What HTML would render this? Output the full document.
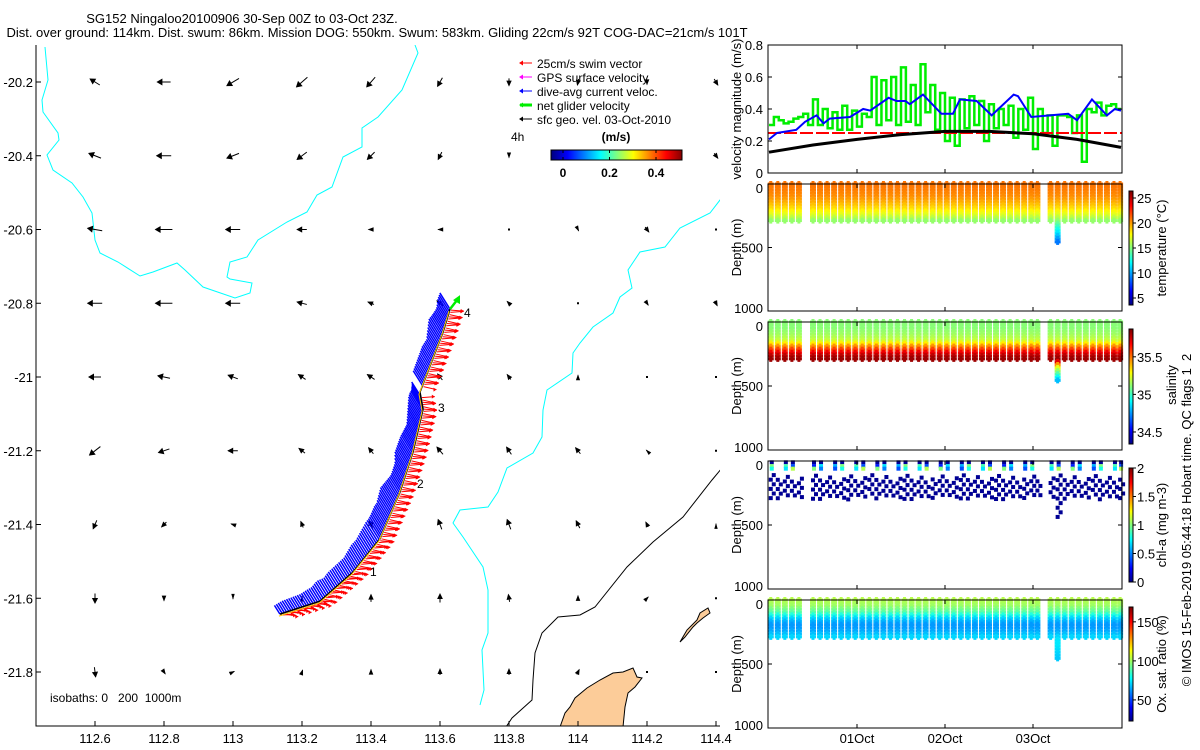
<!DOCTYPE html>
<html><head><meta charset="utf-8"><style>
html,body{margin:0;padding:0;background:#fff;}
svg{display:block;font-family:"Liberation Sans",sans-serif;}
</style></head><body>
<svg id="fig" width="1200" height="750" viewBox="0 0 1200 750" xmlns="http://www.w3.org/2000/svg">
<g font-size="13" fill="#000">
<text x="242" y="23" text-anchor="middle">SG152 Ningaloo20100906 30-Sep 00Z to 03-Oct 23Z.</text>
<text x="377" y="37" text-anchor="middle">Dist. over ground: 114km. Dist. swum: 86km. Mission DOG: 550km. Swum: 583km. Gliding 22cm/s 92T COG-DAC=21cm/s 101T</text>
</g>
<g id="map"></g>
<g id="right"></g>
</svg>
<script>
// ---------- data ----------
const mapLonTicks=[112.6,112.8,113,113.2,113.4,113.6,113.8,114,114.2,114.4];
const mapLatTicks=[-20.2,-20.4,-20.6,-20.8,-21,-21.2,-21.4,-21.6,-21.8];
const geoU=[
[-8,-11,-10,-9,-7,-4,0,-1,0,3],
[-10,-12,-10,-8,-6,-3,0,0,0,3],
[-12,-14,-12,-8,-4,-3,0,1,3,0],
[-12,-14,-12,-8,-5,-5,-3,0,2,2],
[-10,-10,-8,-6,-6,-4,-3,0,0,0],
[-9,-9,-8,-5,-4,-5,-4,-4,-1,0],
[-3,-4,-3,-2,-3,-3,-3,-3,-2,0],
[0,0,0,0,0,0,-1,0,2,0],
[1,2,2,1,0,0,0,2,0,0]];
const geoV=[
[5,0,-6,-8,-8,-7,-6,-5,-4,-5],
[4,0,-4,-6,-6,-6,-3,-2,-2,-4],
[2,0,0,0,0,0,0,-2,-4,0],
[0,0,0,2,2,4,3,0,-3,-4],
[0,2,3,4,4,5,4,3,0,0],
[-7,-3,0,4,5,6,6,5,1,0],
[-7,-4,1,5,7,8,8,6,4,1],
[-8,-4,-1,3,6,7,6,4,2,0],
[-8,-3,1,3,4,5,5,4,0,0]];
const trackLon=[113.136,113.252,113.348,113.426,113.484,113.522,113.551,113.542,113.609,113.629];
const trackLat=[-21.643,-21.608,-21.529,-21.439,-21.312,-21.203,-21.087,-21.041,-20.878,-20.816];

const dacDays=[0,0.09,0.31,0.41,0.54,0.62,0.69,0.92,1.07,1.15,1.36,1.45,1.55,1.6,1.75,1.96,2.09,2.17,2.36,2.53,2.78,2.83,2.98,3.19,3.4,3.5,3.67,3.84,3.93,4.0];
const dacVals=[0.21,0.25,0.27,0.32,0.36,0.31,0.34,0.35,0.40,0.39,0.47,0.45,0.45,0.43,0.49,0.37,0.37,0.46,0.45,0.36,0.49,0.48,0.35,0.36,0.37,0.33,0.46,0.36,0.40,0.39];
const netVals=[0.30,0.35,0.33,0.31,0.32,0.34,0.35,0.37,0.30,0.46,0.30,0.40,0.28,0.38,0.27,0.42,0.27,0.39,0.29,0.37,0.35,0.60,0.30,0.58,0.33,0.60,0.30,0.66,0.32,0.55,0.30,0.68,0.38,0.55,0.27,0.50,0.20,0.47,0.17,0.46,0.28,0.48,0.30,0.45,0.20,0.43,0.28,0.40,0.30,0.42,0.22,0.40,0.27,0.47,0.15,0.40,0.25,0.36,0.17,0.36,0.36,0.35,0.25,0.36,0.07,0.40,0.38,0.44,0.36,0.42,0.43,0.40];
const geoDays=[0,0.5,1,1.5,2,2.5,3,3.5,4];
const geoVals=[0.13,0.175,0.21,0.24,0.26,0.26,0.245,0.21,0.16];
const swimSpeed=0.25;
const velTicks=[0,0.2,0.4,0.6,0.8];
const dayTicks=[1,2,3];
const dayLabels=["01Oct","02Oct","03Oct"];

const diveDays=[0.02,0.10,0.18,0.26,0.34,0.50,0.58,0.66,0.74,0.82,0.90,0.98,1.06,1.14,1.22,1.30,1.38,1.46,1.54,1.62,1.70,1.78,1.86,1.94,2.02,2.10,2.18,2.26,2.34,2.42,2.50,2.58,2.66,2.74,2.82,2.90,2.98,3.05,3.20,3.28,3.36,3.44,3.52,3.60,3.68,3.76,3.84,3.92,3.99];
const diveMaxDepth=[290,300,300,290,300,300,300,290,300,300,300,300,300,290,300,300,300,290,300,300,300,300,300,290,300,300,300,300,300,290,300,300,300,300,290,300,300,300,300,460,300,290,300,300,290,300,300,300,300];
const profDepth=[0,50,100,150,200,250,300,350,460];
const tempVals=[21.0,20.8,20.4,19.6,18.5,17.0,15.0,13,9];
const salVals=[35.12,35.12,35.15,35.22,35.5,35.75,35.85,35.3,34.8];
const chlVals=[0.55,0.6,0.08,0.04,0.04,0.04,0.04,0.04,0.04];
const oxVals=[104,100,90,70,62,66,74,75,70];
</script>
<script>
const NS="http://www.w3.org/2000/svg";
function el(tag,attrs,parent){const e=document.createElementNS(NS,tag);for(const k in attrs)e.setAttribute(k,attrs[k]);if(parent)parent.appendChild(e);return e;}
function txt(s,x,y,attrs,parent){const t=el('text',Object.assign({x:x,y:y},attrs),parent);t.textContent=s;return t;}
function jet(t){t=Math.max(0,Math.min(1,t));const c=v=>Math.round(255*Math.max(0,Math.min(1,v)));
 return `rgb(${c(1.5-Math.abs(4*t-3))},${c(1.5-Math.abs(4*t-2))},${c(1.5-Math.abs(4*t-1))})`;}
function interp(xs,ys,x){if(x<=xs[0])return ys[0];for(let i=1;i<xs.length;i++){if(x<=xs[i]){const f=(x-xs[i-1])/(xs[i]-xs[i-1]);return ys[i-1]+f*(ys[i]-ys[i-1]);}}return ys[ys.length-1];}

// ---------- MAP ----------
const map=document.getElementById('map');
const ML=36,MR=720,MT=45,MB=726;
const X=lon=>95+(lon-112.6)*345;
const Y=lat=>82+(-20.2-lat)*368.75;
const defs=el('defs',{},map);
const cp=el('clipPath',{id:'mapclip'},defs);el('rect',{x:ML,y:MT,width:MR-ML,height:MB-MT},cp);
const mg=el('g',{'clip-path':'url(#mapclip)'},map);
const land=el('path',{d:'M560,727 L565,713 570,707 575,698 587,688 600,680 613,673 623,672 633,668 637,677 642,678 635,687 628,693 625,707 623,727 Z',fill:'#fccc99',stroke:'#000','stroke-width':1},mg);


const isl=el('path',{d:'M680,642 L687,630 697,620 700,613 708,608 710,613 703,618 697,623 693,627 685,637 Z',fill:'#fccc99',stroke:'#000','stroke-width':1},mg);


const c1=el('polyline',{points:'45,47 48,80 42,100 43,112 58,133 59,140 47,155 53,170 72,183 83,197 92,213 95,240 100,253 118,262 140,276 153,272 177,263 185,270 203,287 235,298 250,293 252,283 230,279 227,277 230,262 247,257 258,240 287,222 307,212 317,195 332,187 343,157 362,147 362,128 378,117 402,90 418,53 415,45',fill:'none',stroke:'#00ffff','stroke-width':1},mg);


const c2=el('polyline',{points:'722,198 720,200 710,213 680,228 665,247 640,252 628,270 632,288 620,297 613,313 593,327 580,343 573,353 572,373 547,390 543,410 542,437 533,453 507,468 498,492 488,507 460,510 453,523 463,537 483,567 488,590 488,633 482,650 484,690 480,705',fill:'none',stroke:'#00ffff','stroke-width':1},mg);


const c3=el('polyline',{points:'722,468 712,480 683,517 653,542 627,567 595,607 580,615 558,617 542,633 535,653 533,680 532,700 512,718 506,727',fill:'none',stroke:'#000','stroke-width':1},mg);


for(let r=0;r<mapLatTicks.length;r++){for(let c=0;c<mapLonTicks.length;c++){
 const u=geoU[r][c],v=geoV[r][c];const cx=X(mapLonTicks[c]),cy=Y(mapLatTicks[r]);
 const g=el('g',{},mg);
 
 
 const x0=cx-u*0.6,y0=cy+v*0.6,x1=cx+u*0.6,y1=cy-v*0.6;
 el('line',{x1:x0,y1:y0,x2:x1,y2:y1,stroke:'#000','stroke-width':1},g);
 const L=Math.hypot(u,v);
 if(L>0.5){const ux=(x1-x0)/Math.hypot(x1-x0,y1-y0),uy=(y1-y0)/Math.hypot(x1-x0,y1-y0);const s=Math.min(3.5,1.5+L*0.2);
  el('path',{d:`M${x1+ux*1},${y1+uy*1} L${x1-ux*5-uy*s},${y1-uy*5+ux*s} L${x1-ux*5+uy*s},${y1-uy*5-ux*s}Z`,fill:'#000'},g);}
 else el('rect',{x:cx-1,y:cy-1,width:2,height:2,fill:'#000'},g);
}}
const tp=trackLon.map((l,i)=>[X(l),Y(trackLat[i])]);
const segL=[0];for(let i=1;i<tp.length;i++)segL.push(segL[i-1]+Math.hypot(tp[i][0]-tp[i-1][0],tp[i][1]-tp[i-1][1]));
function along(f){const d=f*segL[segL.length-1];for(let i=1;i<tp.length;i++){if(d<=segL[i]){const g=(d-segL[i-1])/(segL[i]-segL[i-1]);return [tp[i-1][0]+g*(tp[i][0]-tp[i-1][0]),tp[i-1][1]+g*(tp[i][1]-tp[i-1][1])];}}return tp[tp.length-1];}
const gv=el('g',{},mg);


const N=160;
for(let i=0;i<=N;i++){const f=i/N;const [px,py]=along(f);const dac=interp(dacDays,dacVals,f*4);
 if(f>0.755&&f<0.78)continue;
 const L=dac*52;
 el('line',{x1:px,y1:py,x2:px-L*0.5,y2:py-L*0.8,stroke:'#0000ff','stroke-width':1.5},gv);
 const rx=px+swimSpeed*56,ry=py+(i%3)*2;
 el('line',{x1:px+1,y1:py+1,x2:rx,y2:ry,stroke:'#ff0000','stroke-width':1},gv);
 el('path',{d:`M${rx},${ry} l-3,-2 l0,4z`,fill:'#ff0000'},gv);
}
const tl=el('polyline',{points:tp.map(p=>p.join(',')).join(' '),fill:'none',stroke:'#000','stroke-width':1.5},mg);


el('polyline',{points:tp.map(p=>(p[0]-1)+','+(p[1]+2)).join(' '),fill:'none',stroke:'#ffcc00','stroke-width':1},mg);
const last=tp[tp.length-1];
const na=el('g',{},mg);


el('line',{x1:last[0],y1:last[1],x2:last[0]+7,y2:last[1]-9,stroke:'#00ee00','stroke-width':2.5},na);
el('path',{d:`M${last[0]+10},${last[1]-14} L${last[0]+3},${last[1]-9} L${last[0]+10},${last[1]-5}Z`,fill:'#00ee00'},na);
[['1',370,576],['2',417,488],['3',438,412],['4',464,317]].forEach(d=>{const t=txt(d[0],d[1],d[2],{'font-size':12},mg);
 
 });
const ma=el('g',{},map);


el('path',{d:`M${ML},${MT} V${MB} H${MR}`,fill:'none',stroke:'#000','stroke-width':1},ma);
mapLonTicks.forEach(l=>{const x=X(l);el('line',{x1:x,y1:MB,x2:x,y2:MB-5,stroke:'#000'},ma);
 const t=txt(String(l),x,743,{'text-anchor':'middle','font-size':13},ma);
 
 });
mapLatTicks.forEach(l=>{const y=Y(l);el('line',{x1:ML,y1:y,x2:ML+5,y2:y,stroke:'#000'},ma);
 const t=txt(String(l),33,y+5,{'text-anchor':'end','font-size':13},ma);
 
 });
const iso=txt('isobaths: 0   200  1000m',50,702,{'font-size':12},map);


iso.setAttribute('style','white-space:pre');
const lg=el('g',{},map);


[['25cm/s swim vector','#ff0000',1],['GPS surface velocity','#ff00ff',1],['dive-avg current veloc.','#0000ff',1],['net glider velocity','#00ee00',3],['sfc geo. vel. 03-Oct-2010','#000',1]].forEach((d,i)=>{
 const y=67+i*14;const g=el('g',{},lg);
 
 
 el('line',{x1:520,y1:y-4,x2:532,y2:y-4,stroke:d[1],'stroke-width':d[2]},g);
 el('path',{d:`M519,${y-4} l4,-2.5 l0,5z`,fill:d[1]},g);
 txt(d[0],537,y+1,{'font-size':12},g);});
const h4=txt('4h',511,141,{'font-size':12},lg);


const ms=txt('(m/s)',616,141,{'font-size':12,'font-weight':'bold','text-anchor':'middle'},lg);


const cbg=el('g',{},lg);


for(let x=551;x<682;x++){el('rect',{x:x,y:150,width:1.2,height:10,fill:jet((x-551)/131)},cbg);}
el('rect',{x:551,y:150,width:131,height:10,fill:'none',stroke:'#000'},cbg);
[[0,'0'],[0.2,'0.2'],[0.4,'0.4']].forEach(d=>{const x=563+d[0]*232.5;el('line',{x1:x,y1:150,x2:x,y2:153,stroke:'#000'},cbg);el('line',{x1:x,y1:160,x2:x,y2:157,stroke:'#000'},cbg);
 txt(d[1],x,177,{'font-size':12,'font-weight':'bold','text-anchor':'middle'},cbg);});

// ---------- RIGHT PANELS ----------
const R=document.getElementById('right');
const PL=768,PR=1122;
const TX=d=>769+d*88;
const panels=[{t:45,b:173},{t:184,b:311},{t:322,b:450},{t:461,b:589},{t:600,b:728}];
function frame(p,name){const g=el('g',{},R);
 
 
 dayTicks.forEach(d=>{const x=TX(d);el('line',{x1:x,y1:p.b,x2:x,y2:p.b-4,stroke:'#000'},g);el('line',{x1:x,y1:p.t,x2:x,y2:p.t+4,stroke:'#000'},g);});
 el('rect',{x:PL,y:p.t,width:PR-PL,height:p.b-p.t,fill:'none',stroke:'#000','stroke-width':1},g);return g;}
const p1=panels[0];const VY=v=>p1.b-v*(p1.b-p1.t)/0.8;
const vg=el('g',{},R);


let gd='';const dx=4/netVals.length;
netVals.forEach((v,i)=>{const x0=TX(i*dx),x1=TX((i+1)*dx);gd+=(i?'L':'M')+x0+','+VY(v)+' L'+x1+','+VY(v)+' ';});
const gl=el('path',{d:gd,fill:'none',stroke:'#00ee00','stroke-width':2.5},vg);


const rl=el('line',{x1:PL,y1:VY(swimSpeed),x2:PR,y2:VY(swimSpeed),stroke:'#ff0000','stroke-width':2,'stroke-dasharray':'13 3'},vg);


const bl=el('polyline',{points:geoDays.map((d,i)=>TX(d)+','+VY(geoVals[i])).join(' '),fill:'none',stroke:'#000','stroke-width':3},vg);


const dl=el('polyline',{points:dacDays.map((d,i)=>TX(d)+','+VY(dacVals[i])).join(' '),fill:'none',stroke:'#0000ff','stroke-width':2},vg);


const f1=frame(p1,'velocity-axes');
velTicks.forEach(v=>{const y=VY(v);el('line',{x1:PL,y1:y,x2:PL+4,y2:y,stroke:'#000'},f1);el('line',{x1:PR,y1:y,x2:PR-4,y2:y,stroke:'#000'},f1);
 const t=txt(String(v),763,y+5,{'text-anchor':'end','font-size':13},f1);
 
 });
const vt=txt('velocity magnitude (m/s)',0,0,{'font-size':13,'text-anchor':'middle',transform:'translate(741,109) rotate(-90)'},R);



const depthCfg=[
 {vals:tempVals,lo:3.6,hi:26.4,ticks:[5,10,15,20,25],title:'temperature (°C)',name:'temperature',step:24},
 {vals:salVals,lo:34.34,hi:35.87,ticks:[34.5,35,35.5],title:'salinity',name:'salinity',step:24},
 {vals:chlVals,lo:0,hi:2,ticks:[0,0.5,1,1.5,2],title:'chl-a (mg m-3)',name:'chl-a',step:36},
 {vals:oxVals,lo:23,hi:169,ticks:[50,100,150],title:'Ox. sat. ratio (%)',name:'oxygen',step:24}];
const cbY=[[191,305],[329,444],[468,582],[607,721]];
depthCfg.forEach((cfg,k)=>{
 const p=panels[k+1];const DY=z=>p.t+z*(p.b-p.t)/1000;
 const sg=el('g',{},R);
 
 
 const chl=cfg.name==='chl-a';
 diveDays.forEach((d,i)=>{const x=TX(d);const zmax=diveMaxDepth[i];
  if(chl){
   const start=110+((i*37)%60);
   for(let z=start;z<=zmax;z+=cfg.step){el('rect',{x:x-2+((z/36|0)%2)*3,y:DY(z)-2,width:4,height:4,fill:jet(0.04/2)},sg);}
   if(i%3!==1){[10,40,60].forEach((z,j)=>{const v=j?0.3+((i*13+j*7)%9)/10:0.05;el('rect',{x:x-1,y:DY(z)-2,width:4,height:4,fill:jet(v/2)},sg);});}
   return;}
  for(let z=0;z<=zmax;z+=cfg.step){
   const col=jet((interp(profDepth,cfg.vals,z)-cfg.lo)/(cfg.hi-cfg.lo));
   el('rect',{x:x-3,y:DY(z)-1.5,width:6,height:3,fill:col},sg);
   el('rect',{x:x-1.5,y:DY(z)-3,width:3,height:6,fill:col},sg);
  }
 });
 const f=frame(p,cfg.name+'-axes');
 [0,500,1000].forEach(z=>{const y=DY(z);el('line',{x1:PL,y1:y,x2:PL+4,y2:y,stroke:'#000'},f);el('line',{x1:PR,y1:y,x2:PR-4,y2:y,stroke:'#000'},f);
  const t=txt(String(z),763,y+(z===0?9:z===1000?2:5),{'text-anchor':'end','font-size':13},f);
  
  });
 const yt=txt('Depth (m)',0,0,{'font-size':13,'text-anchor':'middle',transform:`translate(741,${(p.t+p.b)/2}) rotate(-90)`},R);
 
 
 const [ct,cb]=cbY[k];const cg=el('g',{},R);
 
 
 for(let y=ct;y<cb;y++)el('rect',{x:1129,y:y,width:4,height:1.2,fill:jet((cb-y)/(cb-ct))},cg);
 el('rect',{x:1129,y:ct,width:4,height:cb-ct,fill:'none',stroke:'#000'},cg);
 cfg.ticks.forEach(v=>{const y=cb-(v-cfg.lo)/(cfg.hi-cfg.lo)*(cb-ct);el('line',{x1:1133,y1:y,x2:1136,y2:y,stroke:'#000'},cg);
  txt(String(v),1137,y+5,{'font-size':13},cg);});
 const ctt=txt(cfg.title,0,0,{'font-size':13,'text-anchor':'middle',transform:`translate(${k===1?1176:1166},${k===1?385:(ct+cb)/2}) rotate(-90)`},R);
 
 
});
dayTicks.forEach((d,i)=>{const t=txt(dayLabels[i],TX(d),743,{'text-anchor':'middle','font-size':13},R);
 
 });
const cr=txt('© IMOS 15-Feb-2019 05:44:18 Hobart time. QC flags 1  2',0,0,{'font-size':13,'text-anchor':'middle',transform:'translate(1191,520) rotate(-90)',style:'white-space:pre'},R);


</script>
</body></html>
